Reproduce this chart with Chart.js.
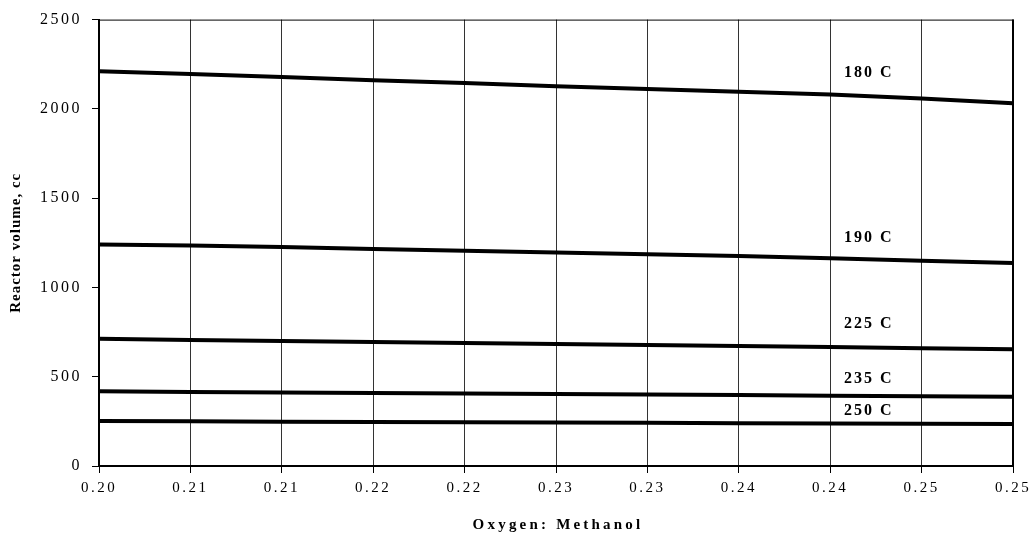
<!DOCTYPE html>
<html>
<head>
<meta charset="utf-8">
<script src="https://cdn.jsdelivr.net/npm/chart.js@4.4.1/dist/chart.umd.min.js"></script>
<style>
  html, body { margin: 0; padding: 0; background: #fff; }
  #wrap { width: 1036px; height: 536px; }
</style>
</head>
<body>
<div id="wrap"><canvas id="c"></canvas></div>
<script>
// ===== Reactor volume vs Oxygen:Methanol ratio =====
const SERIF = '"Liberation Serif", "Times New Roman", serif';

// x tick labels exactly as printed (0.200 .. 0.250 step 0.005, rounded to 2 dp)
const xLabels = ['0.20', '0.21', '0.21', '0.22', '0.22', '0.23', '0.23', '0.24', '0.24', '0.25', '0.25'];

// reactor volume, cc, read at each gridline
const vol180 = [2211, 2195, 2178, 2161, 2145, 2127, 2111, 2096, 2080, 2058, 2032];
const vol190 = [1240, 1235, 1226, 1215, 1205, 1195, 1186, 1176, 1163, 1150, 1137];
const vol225 = [712, 706, 700, 695, 689, 683, 677, 672, 666, 660, 654];
const vol235 = [418, 415, 412, 409, 406, 403, 400, 397, 394, 391, 388];
const vol250 = [252, 250, 248, 247, 245, 243, 242, 240, 238, 237, 235];

const seriesNames = ['180 C', '190 C', '225 C', '235 C', '250 C'];
const seriesData = [vol180, vol190, vol225, vol235, vol250];

// in-plot curve labels: category position + volume level
const labelAt = [8.15, 8.15, 8.15, 8.15, 8.15];
const labelVol = [2200, 1279, 794, 490, 308];

const yTitle = 'Reactor volume, cc';
const xTitle = 'Oxygen: Methanol';

const decor = {
    id: 'decor',
    beforeDraw(chart) { chart.ctx.letterSpacing = '2.5px'; },
    afterDraw(chart) {
        const { ctx, chartArea: a, scales: { x, y } } = chart;
        ctx.save();
        // frame top / right
        ctx.strokeStyle = '#000';
        ctx.lineWidth = 1;
        ctx.beginPath(); ctx.moveTo(a.left, a.top + 0.5); ctx.lineTo(a.right, a.top + 0.5); ctx.stroke();
        ctx.lineWidth = 2;
        ctx.beginPath(); ctx.moveTo(a.right, a.top); ctx.lineTo(a.right, a.bottom); ctx.stroke();

        // curve labels
        ctx.fillStyle = '#000';
        ctx.font = 'bold 16px ' + SERIF;
        ctx.letterSpacing = '2px';
        ctx.textAlign = 'left';
        ctx.textBaseline = 'middle';
        seriesNames.forEach((n, i) => ctx.fillText(n, x.getPixelForValue(labelAt[i]), y.getPixelForValue(labelVol[i])));

        // x title
        ctx.font = 'bold 15px ' + SERIF;
        ctx.letterSpacing = '3.2px';
        ctx.textAlign = 'center';
        ctx.fillText(xTitle, (a.left + a.right) / 2 + 2, 525);

        // y title
        ctx.letterSpacing = '1px';
        ctx.translate(16, (a.top + a.bottom) / 2);
        ctx.rotate(-Math.PI / 2);
        ctx.fillText(yTitle, 0, 0);
        ctx.restore();
    }
};

new Chart(document.getElementById('c').getContext('2d'), {
    type: 'line',
    data: {
        labels: xLabels,
        datasets: seriesData.map((d, i) => ({
            label: seriesNames[i], data: d,
            borderColor: '#000', borderWidth: 4, pointRadius: 0, tension: 0, fill: false
        }))
    },
    options: {
        responsive: true, maintainAspectRatio: false, animation: false,
        layout: { padding: { top: 19, right: 23, left: 0, bottom: 0 } },
        plugins: { legend: { display: false }, tooltip: { enabled: false } },
        scales: {
            x: {
                offset: false,
                grid: { color: '#333', lineWidth: 1, tickLength: 7, tickColor: '#000' },
                border: { color: '#000', width: 2 },
                ticks: { color: '#000', font: { family: SERIF, size: 15 }, padding: 6, autoSkip: false, maxRotation: 0 },
                afterFit: s => { s.height = 70; }
            },
            y: {
                min: 0, max: 2500,
                grid: { drawOnChartArea: false, tickLength: 7, tickColor: '#000' },
                border: { color: '#000', width: 2 },
                ticks: { stepSize: 500, color: '#000', font: { family: SERIF, size: 16 }, padding: 10, callback: v => String(v) },
                afterFit: s => { s.width = 99; }
            }
        }
    },
    plugins: [decor]
});
</script>
</body>
</html>
